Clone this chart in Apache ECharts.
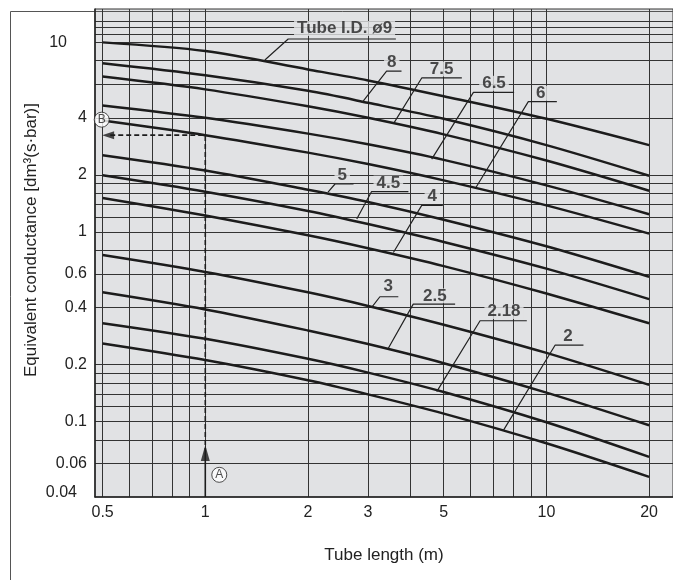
<!DOCTYPE html>
<html>
<head>
<meta charset="utf-8">
<script src="https://cdn.jsdelivr.net/npm/echarts@6/dist/echarts.min.js"></script>
<style>
  html, body { margin: 0; padding: 0; background: #fff; }
  #chart { width: 673px; height: 580px; }
</style>
</head>
<body>
<div id="chart"></div>
<script>
// tube length (m) where each curve was read
const lengths = [0.5, 1, 2, 3, 5, 10, 20];

// equivalent conductance, one array per tube I.D.
const tube9 = [10.0, 9.0, 7.2, 6.3, 5.2, 3.95, 2.87];
const tube8 = [7.75, 6.7, 5.55, 4.8, 3.95, 2.87, 1.98];
const tube7_5 = [6.6, 5.65, 4.6, 4.0, 3.27, 2.38, 1.65];
const tube6_5 = [4.65, 4.0, 3.3, 2.9, 2.4, 1.76, 1.24];
const tube6 = [3.87, 3.24, 2.62, 2.28, 1.87, 1.38, 0.98];
const tube5 = [2.54, 2.11, 1.67, 1.44, 1.16, 0.84, 0.58];
const tube4_5 = [1.99, 1.63, 1.29, 1.1, 0.885, 0.64, 0.442];
const tube4 = [1.51, 1.22, 0.96, 0.82, 0.66, 0.473, 0.33];
const tube3 = [0.755, 0.615, 0.48, 0.407, 0.324, 0.23, 0.156];
const tube2_5 = [0.48, 0.39, 0.302, 0.256, 0.203, 0.142, 0.0955];
const tube2_18 = [0.33, 0.273, 0.214, 0.181, 0.143, 0.099, 0.065];
const tube2 = [0.258, 0.211, 0.165, 0.139, 0.11, 0.0767, 0.051];

const tubeNames = ['9', '8', '7.5', '6.5', '6', '5', '4.5', '4', '3', '2.5', '2.18', '2'];
const tubeValues = [tube9, tube8, tube7_5, tube6_5, tube6, tube5, tube4_5, tube4, tube3, tube2_5, tube2_18, tube2];

// grid lines and tick labels
const xGridValues = [0.5, 0.6, 0.7, 0.8, 0.9, 1, 2, 3, 4, 5, 6, 7, 8, 9, 10, 20];
const xLabelValues = [0.5, 1, 2, 3, 5, 10, 20];
const yGridValues = [0.06, 0.08, 0.1, 0.12, 0.14, 0.16, 0.18, 0.2, 0.4, 0.6, 0.8,
  1, 1.2, 1.4, 1.6, 1.8, 2, 4, 6, 8, 10, 11, 12, 13];
const yLabelValues = [0.04, 0.06, 0.1, 0.2, 0.4, 0.6, 1, 2, 4, 10];

// curve labels: text, where it sits, and its underline + leader to the curve
const labelTexts = ['Tube I.D. ø9', '8', '7.5', '6.5', '6', '5', '4.5', '4', '3', '2.5', '2.18', '2'];
const labelAt = [[2.56, 11.83], [3.52, 7.82], [4.93, 7.24], [7.02, 6.08], [9.63, 5.39], [2.52, 1.98],
  [3.44, 1.81], [4.63, 1.54], [3.44, 0.514], [4.71, 0.46], [7.51, 0.38], [11.56, 0.28]];
const leaderPaths = [
  [[3.62, 10.42], [1.75, 10.42], [1.495, 8.07]],
  [[3.76, 7.06], [3.40, 7.06], [2.88, 4.81]],
  [[5.65, 6.49], [4.31, 6.49], [3.57, 3.75]],
  [[8.04, 5.45], [6.11, 5.45], [4.61, 2.42]],
  [[10.73, 4.87], [8.85, 4.87], [6.22, 1.72]],
  [[2.72, 1.79], [2.40, 1.79], [2.29, 1.62]],
  [[3.94, 1.63], [3.07, 1.63], [2.78, 1.17]],
  [[4.97, 1.38], [4.31, 1.38], [3.56, 0.779]],
  [[3.68, 0.455], [3.25, 0.455], [3.07, 0.399]],
  [[5.40, 0.416], [4.07, 0.416], [3.44, 0.2435]],
  [[8.76, 0.34], [6.39, 0.34], [4.77, 0.1438]],
  [[12.84, 0.2525], [10.6, 0.2525], [7.48, 0.0898]]
];

// worked example: A = 1 m, up to the ø6 curve, across to B
const readLength = 1;
const readValue = 3.24;
const arrowUpAt = 0.0681;
const arrowLeftAt = 0.519;
const pointA = [1.099, 0.0523];
const pointB = [0.497, 3.91];

const bg = '#e1e2e4';
const ink = '#1c1c1c';
const gridInk = '#333';
const font = 'Liberation Sans, Arial, Helvetica, sans-serif';

const fmt = v => String(Number(Number(v).toPrecision(3)));

const chart = echarts.init(document.getElementById('chart'));

const curves = tubeValues.map((vals, i) => ({
  name: tubeNames[i],
  type: 'line',
  smooth: 0.3,
  symbol: 'none',
  silent: true,
  z: 4,
  lineStyle: { color: ink, width: 2.5 },
  data: lengths.map((L, j) => [L, vals[j]])
}));

const leaders = leaderPaths.map(p => ({
  type: 'line',
  symbol: 'none',
  silent: true,
  z: 6,
  lineStyle: { color: '#222', width: 1.2 },
  data: p
}));

const labels = {
  type: 'scatter',
  symbolSize: 1,
  silent: true,
  z: 5,
  itemStyle: { color: 'rgba(0,0,0,0)' },
  label: {
    show: true,
    position: 'inside',
    color: '#222',
    fontSize: 17,
    fontWeight: 'bold',
    fontFamily: font,
    backgroundColor: bg,
    padding: [0, 3],
    lineHeight: 15
  },
  data: labelAt.map((p, i) => ({ value: p, label: { formatter: labelTexts[i] } }))
};

const dashStyle = { color: ink, width: 1.6, type: [5, 3] };

const example = [
  {
    type: 'line', symbol: 'none', silent: true, z: 3,
    lineStyle: { color: ink, width: 1.6 },
    data: [[readLength, 0.03995], [readLength, arrowUpAt]]
  },
  {
    type: 'line', symbol: 'none', silent: true, z: 3,
    lineStyle: dashStyle,
    data: [[readLength, arrowUpAt], [readLength, readValue], [arrowLeftAt, readValue]]
  },
  {
    type: 'scatter', silent: true, z: 7,
    symbol: 'triangle',
    itemStyle: { color: ink },
    data: [
      { value: [readLength, arrowUpAt], symbolSize: [9, 16] },
      { value: [arrowLeftAt, readValue], symbolSize: [8, 12], symbolRotate: 90 }
    ]
  },
  {
    type: 'scatter', silent: true, z: 7,
    symbol: 'circle',
    symbolSize: 15,
    itemStyle: { color: '#fff', borderColor: '#222', borderWidth: 1 },
    label: { show: true, position: 'inside', color: '#222', fontSize: 12, fontFamily: font },
    data: [
      { value: pointA, label: { formatter: 'A' } },
      { value: pointB, label: { formatter: 'B' } }
    ]
  }
];

const option = {
  animation: false,
  backgroundColor: '#fff',
  graphic: [{
    type: 'rect',
    left: 8, top: 9,
    shape: { width: 800, height: 800 },
    style: { fill: 'none', stroke: '#555', lineWidth: 1 },
    silent: true
  }],
  grid: {
    left: 95, right: 0, top: 9, bottom: 83,
    show: true,
    backgroundColor: bg,
    borderColor: '#333',
    borderWidth: 1
  },
  xAxis: {
    type: 'log',
    min: 0.475,
    max: 23.5,
    name: 'Tube length (m)',
    nameLocation: 'middle',
    nameGap: 50,
    nameMoveOverlap: false,
    nameTextStyle: { color: '#222', fontSize: 17, fontFamily: font },
    axisLine: { show: true, onZero: false, lineStyle: { color: '#222', width: 1.5 } },
    axisTick: { show: true, length: 0, customValues: xGridValues },
    axisLabel: {
      customValues: xLabelValues,
      formatter: fmt,
      color: '#222', fontSize: 16, fontFamily: font, margin: 8
    },
    splitLine: { show: true, lineStyle: { color: gridInk, width: 1 } }
  },
  yAxis: {
    type: 'log',
    min: 0.03995,
    max: 15,
    name: 'Equivalent conductance [dm³(s·bar)]',
    nameLocation: 'middle',
    nameGap: 55,
    nameMoveOverlap: false,
    nameTextStyle: { color: '#222', fontSize: 17, fontFamily: font, padding: [0, 0, 0, 26] },
    axisLine: { show: true, lineStyle: { color: '#222', width: 1.5 } },
    axisTick: { show: true, length: 0, customValues: yGridValues },
    axisLabel: {
      customValues: yLabelValues,
      formatter: v => {
        const s = fmt(v);
        if (s === '10') return '{w|10}';
        if (s === '0.04') return '{m|0.04}';
        return s;
      },
      color: '#222', fontSize: 16, fontFamily: font, margin: 8,
      rich: {
        w: { color: '#222', fontSize: 16, fontFamily: font, padding: [0, 20, 0, 0] },
        m: { color: '#222', fontSize: 16, fontFamily: font, padding: [0, 10, 8, 0] }
      }
    },
    splitLine: { show: true, lineStyle: { color: gridInk, width: 1 } }
  },
  series: [...curves, ...leaders, labels, ...example]
};

chart.setOption(option);
</script>
</body>
</html>
